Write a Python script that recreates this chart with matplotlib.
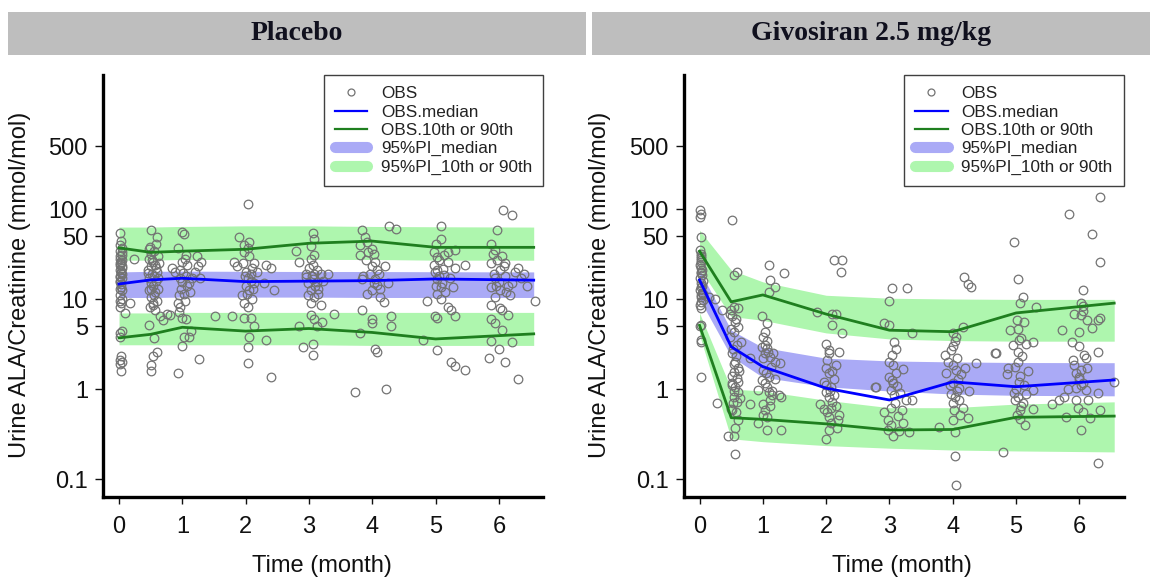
"""
plot.py - Observed urine ALA/creatinine vs. time with 95% prediction intervals
"""

import matplotlib
matplotlib.use('Agg')
import matplotlib.pyplot as plt
import numpy as np
from matplotlib.lines import Line2D
from matplotlib.patches import Rectangle
from matplotlib.ticker import NullLocator

plt.rcParams['font.family'] = ['Liberation Sans', 'DejaVu Sans']

# Visit bins (months) used for the summary lines and bands
TIME_BINS = [0, 0.5, 1, 2, 3, 4, 5, 6.55]

# ---- Placebo ----
placebo_med = [14.7, 16.3, 17.0, 15.6, 15.8, 16.0, 16.7, 16.2]
placebo_p90 = [37, 33, 34, 35.7, 41.6, 44, 37.5, 37.5]
placebo_p10 = [3.7, 4.05, 4.85, 4.4, 4.7, 4.25, 3.6, 4.1]
placebo_med_pi = ([10.4, 10.4, 10.5, 10.5, 10.5, 10.4, 10.4, 10.4],
                  [20.0, 20.3, 20.4, 20.3, 20.2, 20.2, 20.1, 20.0])
placebo_p90_pi = ([27, 27, 27.5, 27.5, 27.5, 27.5, 27, 27],
                  [63, 63, 64, 65, 65, 64, 63.5, 63])
placebo_p10_pi = ([3.1, 3.1, 3.1, 3.1, 3.1, 3.05, 3.05, 3.05],
                  [7.0, 7.0, 7.1, 7.1, 7.1, 7.1, 7.1, 7.1])

placebo_obs = [
    # month 0
    (0.02, 54), (0.03, 44), (0.01, 40), (0.04, 37), (0.02, 34), (0.05, 31), (0.01, 30),
    (0.01, 28), (0.04, 27), (0.03, 26), (0.02, 24), (0.04, 23), (0.05, 22), (0.01, 21),
    (0.03, 20), (0.03, 19.5), (0.02, 18), (0.05, 17), (0.02, 16), (0.01, 15.5),
    (0.03, 14.5), (0.02, 13), (0.04, 12.5), (0.01, 11), (0.03, 9), (0.02, 8.2),
    (0.05, 4.4), (0.02, 4.2), (0.01, 3.8), (0.03, 2.3), (0.02, 2.1), (0.04, 2.0),
    (0.01, 1.9), (0.03, 1.6), (0.10, 7), (0.17, 9), (0.23, 28),
    (0.02, 25), (0.04, 19), (0.01, 17.5), (0.03, 13.5), (0.05, 10), (0.02, 9.5), (0.04, 33),
    # month 0.5
    (0.51, 58), (0.60, 49), (0.58, 41), (0.48, 36), (0.55, 34), (0.50, 32), (0.62, 30),
    (0.47, 28), (0.53, 26), (0.57, 24), (0.50, 23), (0.45, 21), (0.60, 20), (0.52, 19),
    (0.55, 18), (0.48, 17), (0.58, 16), (0.50, 15), (0.53, 14), (0.62, 13), (0.47, 12.5),
    (0.56, 11), (0.50, 10.5), (0.60, 9.5), (0.53, 8.6), (0.49, 8.2), (0.57, 7.6),
    (0.64, 6.4), (0.47, 5.2), (0.55, 3.7), (0.60, 2.6), (0.54, 2.3), (0.50, 1.85),
    (0.50, 1.57), (0.81, 6.6), (0.94, 7.2), (0.70, 5.8), (0.75, 6.8),
    (0.52, 27), (0.58, 22), (0.46, 19.5), (0.61, 17), (0.51, 13), (0.57, 12), (0.54, 9),
    (0.63, 25), (0.49, 38),
    # month 1
    (1.00, 55), (1.02, 53), (0.93, 37), (1.06, 31), (1.00, 26), (1.08, 24), (0.96, 21),
    (0.84, 22), (0.88, 20), (1.05, 18), (1.15, 17), (1.00, 15.6), (1.10, 15), (0.98, 13),
    (1.03, 11.5), (0.93, 9), (0.96, 8.2), (1.00, 6.2), (1.06, 6), (1.13, 4.4),
    (1.03, 3.8), (1.10, 3.8), (1.00, 3.0), (0.93, 1.5), (1.23, 30), (1.29, 26),
    (1.20, 20), (1.25, 23), (1.28, 17), (1.27, 2.15), (1.52, 6.4), (1.81, 26),
    (1.87, 23), (1.79, 6.4),
    (1.04, 28), (0.97, 17), (1.07, 14), (1.01, 19.5), (0.95, 11), (1.12, 12), (1.04, 9.5),
    # month 2
    (2.03, 115), (1.90, 49), (1.98, 40), (2.03, 37), (2.05, 43), (1.98, 33), (2.13, 25),
    (2.10, 22), (2.00, 20), (2.08, 19), (2.03, 17), (2.13, 15), (2.00, 14), (2.05, 12.6),
    (1.95, 11), (2.10, 10), (1.98, 9), (2.03, 8.2), (1.98, 6.2), (2.08, 6.2), (2.13, 5),
    (2.05, 3.8), (2.03, 2.9), (2.03, 1.93), (2.32, 24), (2.40, 22), (2.29, 15),
    (2.45, 12.6), (2.32, 3.5), (2.40, 1.35),
    (2.06, 30), (1.96, 25), (2.09, 16), (1.99, 18), (2.12, 13), (2.02, 11.5), (2.18, 20),
    # month 3
    (3.06, 54), (3.08, 46), (3.03, 39), (2.79, 34), (2.84, 26), (3.08, 31), (3.06, 24),
    (3.00, 22), (2.95, 19), (3.08, 19), (3.19, 19), (3.30, 19), (2.95, 17.5), (3.06, 16.5),
    (3.13, 15.6), (3.10, 14), (3.03, 12.6), (3.15, 11.5), (3.08, 10.6), (3.03, 9),
    (3.19, 8.6), (3.40, 6.9), (3.03, 6.6), (3.08, 6), (3.20, 5.5), (3.13, 5), (2.84, 5),
    (3.06, 3.2), (2.90, 2.9), (3.06, 2.4),
    (3.04, 28), (3.12, 21), (2.98, 15), (3.05, 18), (3.14, 13), (2.98, 11), (3.22, 16),
    # month 4
    (3.83, 58), (3.88, 49), (3.80, 40), (3.91, 43), (3.80, 31), (3.93, 33), (4.02, 32),
    (4.04, 26), (3.99, 23), (4.20, 23), (3.96, 19), (4.10, 19), (3.83, 16.5), (4.05, 16.5),
    (4.25, 15), (4.07, 14.3), (4.00, 12.6), (4.13, 10.4), (4.18, 9.3), (3.83, 7.6),
    (4.30, 6.4), (4.00, 6), (4.00, 5.4), (4.30, 5), (3.80, 4.15), (4.05, 2.8), (4.07, 2.6),
    (3.72, 0.92), (4.22, 1.0), (4.27, 64), (4.38, 60),
    (3.90, 27), (4.08, 21), (3.86, 18), (4.03, 15), (3.92, 11.5), (4.12, 13), (4.00, 36),
    # month 5
    (5.09, 64), (5.09, 46), (5.01, 41), (5.30, 35), (4.97, 33), (5.19, 33), (5.14, 31),
    (5.03, 29.5), (5.20, 26), (5.47, 24), (5.30, 22), (5.03, 21), (4.99, 20), (5.14, 18.4),
    (5.05, 18), (5.03, 16.5), (5.10, 15), (5.09, 13.7), (5.27, 13.7), (5.03, 11.5),
    (4.86, 9.5), (5.19, 8.2), (5.25, 7.6), (4.99, 6.4), (5.30, 6.4), (5.03, 6.2),
    (4.80, 3.5), (5.03, 2.7), (5.25, 2.0), (5.30, 1.8), (5.47, 1.63),
    (5.06, 27), (4.98, 24), (5.12, 21.5), (5.00, 14), (5.15, 12), (5.08, 10), (5.22, 17),
    # month 6
    (6.07, 97), (6.20, 85), (5.97, 58), (5.87, 41), (5.94, 35), (5.90, 32), (6.05, 30),
    (5.87, 25), (6.10, 25), (6.30, 22), (6.02, 21), (6.25, 20), (6.10, 18), (5.94, 17),
    (6.35, 17), (6.20, 15), (6.15, 14), (5.87, 13.7), (6.02, 12.6), (5.94, 10.6),
    (6.57, 9.6), (5.87, 8.6), (6.02, 8), (6.05, 7.5), (6.15, 6.6), (5.87, 6), (5.94, 5.4),
    (6.05, 4.5), (5.87, 3.4), (6.20, 3.3), (6.00, 2.8), (5.85, 2.2), (6.10, 2.0),
    (6.30, 1.3),
    (5.97, 27), (6.08, 23), (5.92, 19), (6.00, 15.5), (6.12, 12), (5.95, 14), (6.18, 11),
    (6.40, 19), (6.45, 14),
]

# ---- Givosiran 2.5 mg/kg ----
givo_med = [16.3, 2.95, 1.77, 1.02, 0.755, 1.2, 1.06, 1.26]
givo_p90 = [34, 9.3, 11.1, 6.8, 4.5, 4.33, 7.0, 9.0]
givo_p10 = [5.1, 0.48, 0.46, 0.41, 0.35, 0.355, 0.485, 0.50]
givo_med_pi = ([10, 2.3, 1.35, 1.06, 0.95, 0.88, 0.85, 0.84],
               [21, 4.5, 2.9, 2.2, 2.05, 2.0, 1.97, 1.96])
givo_p90_pi = ([22, 6.4, 5.8, 4.2, 3.6, 3.45, 3.4, 3.4],
               [58, 21, 15.5, 11, 10.2, 10, 9.9, 9.9])
givo_p10_pi = ([4.0, 0.28, 0.26, 0.235, 0.22, 0.21, 0.205, 0.2],
               [7.0, 1.0, 0.95, 0.75, 0.62, 0.62, 0.68, 0.72])

givo_obs = [
    # month 0
    (0.00, 97), (0.02, 89), (0.01, 82), (0.02, 49), (0.01, 35), (0.03, 32), (0.02, 30),
    (0.02, 27), (0.03, 26), (0.01, 24), (0.03, 22), (0.04, 21), (0.02, 20), (0.04, 18.7),
    (0.01, 17), (0.05, 16), (0.03, 15), (0.02, 13.7), (0.01, 12.6), (0.04, 11.6),
    (0.06, 11.5), (0.02, 10.6), (0.15, 10.5), (0.24, 9.9), (0.03, 9.3), (0.01, 8.5),
    (0.02, 7.9), (0.35, 7.5), (0.03, 5.1), (0.01, 5.0), (0.02, 3.5), (0.03, 3.3),
    (0.02, 1.37), (0.27, 0.7),
    (0.02, 28.5), (0.03, 19.5), (0.04, 14), (0.02, 11), (0.05, 9.8),
    # month 0.5
    (0.51, 75), (0.59, 20), (0.54, 18.5), (0.54, 8.2), (0.61, 8.0), (0.50, 7.5),
    (0.48, 6.9), (0.51, 6.4), (0.58, 6.0), (0.56, 5.6), (0.61, 4.9), (0.54, 4.3),
    (0.48, 3.8), (0.66, 3.3), (0.59, 3.1), (0.51, 2.5), (0.80, 2.2), (0.56, 2.0),
    (0.55, 1.9), (0.60, 1.7), (0.54, 1.56), (0.59, 1.31), (0.51, 1.16), (0.52, 1.1),
    (0.56, 1.06), (0.61, 0.93), (0.54, 0.82), (0.59, 0.72), (0.80, 0.69), (0.51, 0.58),
    (0.50, 0.6), (0.61, 0.45), (0.56, 0.37), (0.45, 0.3), (0.54, 0.3), (0.56, 0.19),
    (0.53, 2.8), (0.57, 2.3), (0.52, 1.4), (0.60, 1.2), (0.55, 0.95), (0.53, 0.7),
    (0.58, 0.55), (0.62, 1.6), (0.49, 4.6), (0.64, 0.8),
    # month 1
    (1.09, 23.9), (1.33, 19.6), (1.11, 16.3), (1.19, 13.7), (1.09, 12.1), (0.98, 6.4),
    (1.06, 5.4), (1.03, 4.3), (1.01, 3.8), (1.06, 3.4), (0.98, 2.95), (1.06, 2.83),
    (1.03, 2.49), (1.11, 2.29), (1.19, 2.01), (1.27, 1.93), (1.01, 1.63), (1.09, 1.37),
    (1.20, 1.3), (1.03, 1.16), (0.93, 0.975), (1.15, 0.95), (1.09, 0.93), (1.14, 0.86),
    (1.25, 0.86), (1.28, 0.82), (1.01, 0.69), (1.11, 0.64), (1.01, 0.51), (1.06, 0.49),
    (0.93, 0.42), (1.06, 0.35), (1.28, 0.35),
    (1.04, 3.1), (1.08, 2.6), (1.00, 2.2), (1.13, 1.75), (1.05, 1.5), (0.99, 1.25),
    (1.07, 1.05), (1.12, 0.75), (1.03, 0.58), (1.16, 2.5),
    # month 2
    (2.12, 27), (2.25, 27), (2.23, 20), (1.86, 7.2), (2.10, 6.9), (2.15, 6.9), (2.10, 5.1),
    (2.25, 4.15), (2.04, 2.7), (2.20, 2.6), (2.04, 2.49), (2.15, 1.85), (1.99, 1.7),
    (2.04, 1.5), (1.96, 1.2), (2.07, 1.06), (1.99, 0.93), (2.04, 0.82), (2.10, 0.72),
    (1.91, 0.69), (2.15, 0.64), (2.02, 0.56), (2.20, 0.51), (2.04, 0.49), (2.07, 0.42),
    (2.17, 0.37), (2.04, 0.35), (1.99, 0.28), (2.77, 1.06),
    (2.02, 2.1), (2.09, 1.6), (2.13, 1.3), (2.00, 1.1), (2.06, 0.95), (2.12, 0.85),
    (1.97, 0.6), (2.08, 0.62), (2.18, 0.45), (2.00, 3.2),
    # month 3
    (3.04, 13.1), (3.28, 13.1), (3.00, 9.5), (2.92, 5.4), (3.00, 5.2), (3.36, 4.15),
    (3.07, 3.36), (3.04, 2.4), (3.05, 1.85), (3.21, 1.65), (3.04, 1.26), (3.05, 1.16),
    (2.78, 1.06), (3.02, 0.975), (3.17, 0.9), (3.26, 0.75), (3.35, 0.75), (3.09, 0.7),
    (2.92, 0.55), (2.97, 0.45), (3.21, 0.42), (2.97, 0.35), (3.15, 0.34), (3.31, 0.33),
    (3.05, 0.3),
    (3.00, 2.0), (3.10, 1.5), (2.99, 1.35), (3.12, 1.08), (3.07, 0.85), (3.02, 0.62),
    (3.14, 0.5), (3.03, 0.4), (3.20, 0.58), (3.10, 2.8),
    # month 4
    (4.18, 17.7), (4.24, 14.5), (4.29, 13.7), (4.16, 4.9), (4.00, 4.2), (4.03, 3.4),
    (4.00, 3.0), (3.87, 2.4), (3.92, 2.0), (4.00, 1.85), (4.37, 1.93), (4.05, 1.63),
    (4.66, 2.5), (3.90, 1.5), (4.13, 1.45), (4.00, 1.16), (4.10, 1.02), (4.26, 0.94),
    (4.03, 0.82), (4.10, 0.75), (4.00, 0.7), (4.16, 0.61), (4.24, 0.48), (4.00, 0.45),
    (3.79, 0.38), (4.03, 0.33), (4.03, 0.18), (4.05, 0.085),
    (4.06, 2.2), (3.97, 2.7), (4.09, 1.3), (3.95, 1.1), (4.07, 0.95), (4.02, 0.58),
    (4.12, 0.52), (3.98, 0.88), (4.20, 1.7), (4.05, 3.8),
    # month 5
    (4.97, 43), (5.03, 16.5), (5.11, 10.6), (5.06, 9.0), (5.32, 8.2), (5.13, 5.5),
    (4.90, 4.5), (5.03, 4.6), (5.08, 3.7), (5.27, 3.3), (5.16, 3.2), (4.95, 3.1),
    (5.03, 2.6), (4.69, 2.5), (5.03, 2.0), (4.87, 1.7), (4.85, 1.45), (5.06, 1.4),
    (5.00, 1.0), (5.27, 0.98), (5.16, 0.88), (5.03, 0.82), (4.98, 0.75), (5.11, 0.7),
    (5.27, 0.6), (5.06, 0.58), (5.06, 0.46), (5.14, 0.4), (4.79, 0.2),
    (5.01, 5.8), (5.09, 2.3), (4.99, 1.75), (5.04, 1.2), (5.12, 1.1), (4.97, 0.9),
    (5.08, 0.65), (5.02, 0.52), (5.19, 1.6), (5.05, 3.5),
    # month 6
    (6.32, 135), (5.84, 88), (6.20, 53), (6.33, 26), (6.06, 12.6), (6.03, 9), (6.06, 8.4),
    (6.06, 7.4), (5.91, 6.9), (6.03, 6.6), (6.33, 6.2), (6.12, 5.85), (6.29, 5.85),
    (5.73, 4.5), (5.99, 4.3), (5.88, 3.36), (6.29, 2.6), (6.10, 2.2), (5.91, 1.85),
    (6.03, 1.63), (5.99, 1.37), (6.00, 1.3), (6.06, 1.16), (6.55, 1.2), (5.94, 1.02),
    (5.82, 1.0), (6.29, 0.9), (5.76, 0.82), (5.94, 0.75), (6.14, 0.75), (5.68, 0.75),
    (5.56, 0.69), (6.32, 0.58), (5.79, 0.49), (6.17, 0.48), (6.03, 0.35), (6.29, 0.15),
    (6.00, 3.0), (6.08, 2.4), (5.95, 1.5), (6.02, 1.1), (6.10, 0.98), (5.98, 0.62),
    (6.05, 0.55), (6.12, 1.7), (6.20, 4.8), (5.90, 2.1),
]

Y_TICKS = [0.1, 1, 5, 10, 50, 100, 500]
Y_TICK_LABELS = ['0.1', '1', '5', '10', '50', '100', '500']
X_TICKS = [0, 1, 2, 3, 4, 5, 6]

BLUE = '#0000FF'
GREEN = '#1F7F1F'
BLUE_BAND = '#AAAAF6'
GREEN_BAND = '#AEF6AE'
OBS_GRAY = '#737373'

W, H = 1154, 577


def px_box(x0, y0, x1, y1):
    """Convert a pixel box (top-left origin) to figure fractions [l, b, w, h]."""
    return [x0 / W, 1 - y1 / H, (x1 - x0) / W, (y1 - y0) / H]


def draw_panel(ax, obs, med, p10, p90, med_pi, p10_pi, p90_pi):
    """Draw one VPC panel: prediction bands, observations and observed percentiles."""
    # Prediction interval bands
    ax.fill_between(TIME_BINS, p90_pi[0], p90_pi[1], color=GREEN_BAND, lw=0, zorder=1)
    ax.fill_between(TIME_BINS, p10_pi[0], p10_pi[1], color=GREEN_BAND, lw=0, zorder=1)
    ax.fill_between(TIME_BINS, med_pi[0], med_pi[1], color=BLUE_BAND, lw=0, zorder=1)

    # Observations
    obs = np.array(obs)
    ax.plot(obs[:, 0], obs[:, 1], 'o', ms=6.2, mfc='none', mec=OBS_GRAY, mew=0.9,
            zorder=2, clip_on=False)

    # Observed percentiles
    ax.plot(TIME_BINS, p90, color=GREEN, lw=2.0, zorder=3)
    ax.plot(TIME_BINS, p10, color=GREEN, lw=2.0, zorder=3)
    ax.plot(TIME_BINS, med, color=BLUE, lw=2.0, zorder=3)

    # Axes styling (log y, L-shaped frame)
    ax.set_yscale('log')
    ax.set_ylim(0.0631, 3083)
    ax.set_xlim(-0.25, 6.7)
    ax.set_yticks(Y_TICKS)
    ax.set_yticklabels(Y_TICK_LABELS)
    ax.yaxis.set_minor_locator(NullLocator())
    ax.set_xticks(X_TICKS)
    ax.set_xticklabels([str(t) for t in X_TICKS])
    for side in ['top', 'right']:
        ax.spines[side].set_visible(False)
    for side in ['left', 'bottom']:
        ax.spines[side].set_linewidth(2.4)
        ax.spines[side].set_color('black')
    ax.tick_params(axis='y', direction='out', length=6, width=1.0, pad=5,
                   labelsize=17, colors='#111111')
    ax.tick_params(axis='x', direction='out', length=5, width=1.0, pad=9,
                   labelsize=17, colors='#111111')

    # Legend
    handles = [
        Line2D([], [], ls='none', marker='o', ms=5, mfc='none', mec=OBS_GRAY, mew=0.9),
        Line2D([], [], color=BLUE, lw=1.6),
        Line2D([], [], color=GREEN, lw=1.6),
        Line2D([], [], color=BLUE_BAND, lw=8, solid_capstyle='round'),
        Line2D([], [], color=GREEN_BAND, lw=8, solid_capstyle='round'),
    ]
    labels = ['OBS', 'OBS.median', 'OBS.10th or 90th', '95%PI_median', '95%PI_10th or 90th']
    leg = ax.legend(handles, labels, loc='upper right', bbox_to_anchor=(1, 1),
                    borderaxespad=0, fontsize=12.3, handlelength=1.9,
                    handletextpad=0.8, borderpad=0.65, labelspacing=0.2,
                    fancybox=False, framealpha=1, edgecolor='#404040')
    leg.get_frame().set_linewidth(1.0)
    for txt in leg.get_texts():
        txt.set_color('#222222')


fig = plt.figure(figsize=(W / 100, H / 100), dpi=100)

# Strip headers
for (x0, x1, title) in [(8, 586, 'Placebo'), (592, 1150, 'Givosiran 2.5 mg/kg')]:
    fig.add_artist(Rectangle((x0 / W, 1 - 55 / H), (x1 - x0) / W, 43 / H,
                             transform=fig.transFigure, facecolor='#BEBEBE',
                             edgecolor='none'))
    fig.text((x0 + x1) / 2 / W, 1 - 34 / H, title, ha='center', va='center',
             fontsize=20, fontweight='bold', family=['Liberation Serif', 'DejaVu Serif'],
             color='#10101E')

ax1 = fig.add_axes(px_box(103.2, 75, 543.2, 497))
ax2 = fig.add_axes(px_box(683.7, 75, 1123.7, 497))

draw_panel(ax1, placebo_obs, placebo_med, placebo_p10, placebo_p90,
           placebo_med_pi, placebo_p10_pi, placebo_p90_pi)
draw_panel(ax2, givo_obs, givo_med, givo_p10, givo_p90,
           givo_med_pi, givo_p10_pi, givo_p90_pi)

# Axis titles
for x_ylab, x_xlab in [(20, 322), (600, 902)]:
    fig.text(x_ylab / W, 1 - 285 / H, 'Urine ALA/Creatinine (mmol/mol)', rotation=90,
             ha='center', va='center', fontsize=17, color='#111111')
    fig.text(x_xlab / W, 1 - 566 / H, 'Time (month)', ha='center', va='center',
             fontsize=17, color='#111111')

fig.savefig('out.png', dpi=100, facecolor='white')
